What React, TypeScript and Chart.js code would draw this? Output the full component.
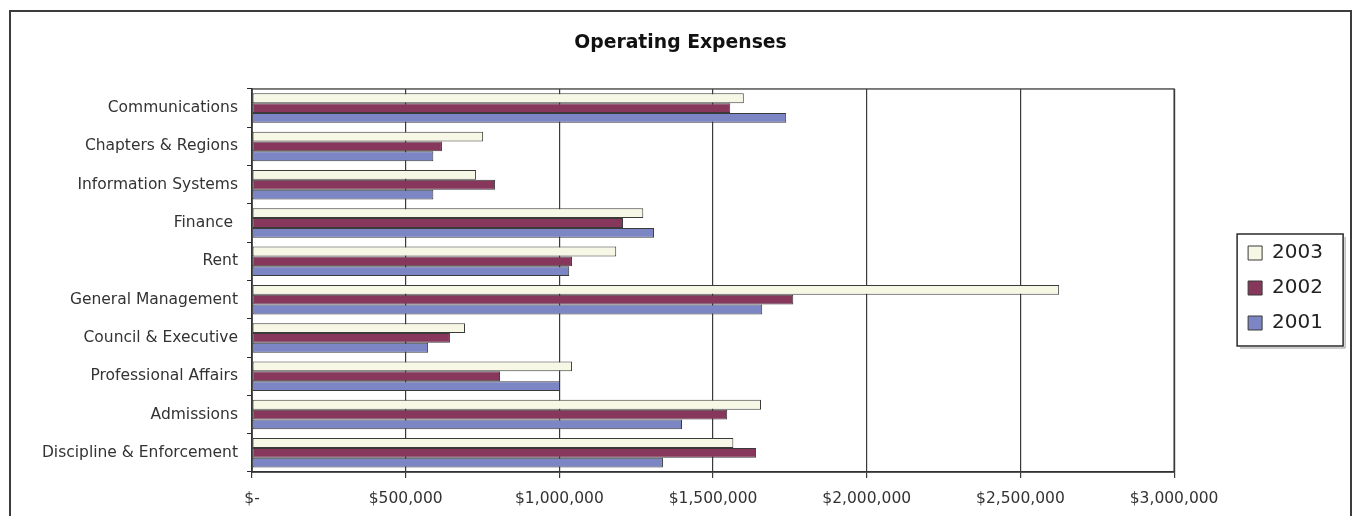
import React, { useEffect, useRef } from 'react';
import { Chart, registerables } from 'chart.js';

Chart.register(...registerables);

const categories = [
  'Communications',
  'Chapters & Regions',
  'Information Systems',
  'Finance ',
  'Rent',
  'General Management',
  'Council & Executive',
  'Professional Affairs',
  'Admissions',
  'Discipline & Enforcement',
];

const seriesNames = ['2003', '2002', '2001'];

const values2003 = [1600000, 752000, 729000, 1273000, 1185000, 2626000, 693000, 1041000, 1656000, 1566000];
const values2002 = [1556000, 618000, 791000, 1207000, 1041000, 1761000, 644000, 807000, 1546000, 1640000];
const values2001 = [1738000, 590000, 590000, 1308000, 1032000, 1660000, 573000, 1002000, 1399000, 1337000];

const xTickLabels = ['$-', '$500,000', '$1,000,000', '$1,500,000', '$2,000,000', '$2,500,000', '$3,000,000'];

const FONT = "'DejaVu Sans', sans-serif";

export default function App() {
  const ref = useRef<HTMLCanvasElement | null>(null);

  useEffect(() => {
    if (!ref.current) return;

    const plotFrame = {
      id: 'plotFrame',
      beforeDatasetsDraw(chart: any) {
        const { ctx, chartArea: a } = chart;
        ctx.save();
        ctx.strokeStyle = '#3a3a3a';
        ctx.lineWidth = 1.3;
        ctx.strokeRect(a.left, a.top, a.right - a.left, a.bottom - a.top);
        ctx.restore();
      },
    };

    const legendBox = {
      id: 'legendBox',
      afterDraw(chart: any) {
        const lg = chart.legend;
        const hb = lg && lg.legendHitBoxes;
        if (!hb || !hb.length) return;
        const first = hb[0];
        const last = hb[hb.length - 1];
        const left = first.left - 11;
        const top = first.top + first.height / 2 - 19;
        const right = left + 106;
        const bottom = last.top + last.height / 2 + 23;
        const ctx = chart.ctx;
        ctx.save();
        ctx.strokeStyle = '#9a9a9a';
        ctx.lineWidth = 1;
        ctx.beginPath();
        ctx.moveTo(right + 2, top + 3);
        ctx.lineTo(right + 2, bottom + 2);
        ctx.lineTo(left + 3, bottom + 2);
        ctx.stroke();
        ctx.strokeStyle = '#2a2a2a';
        ctx.lineWidth = 1.5;
        ctx.strokeRect(left, top, right - left, bottom - top);
        ctx.restore();
      },
    };

    const chart = new Chart(ref.current, {
      type: 'bar',
      data: {
        labels: categories,
        datasets: [
          {
            label: seriesNames[0],
            data: values2003,
            backgroundColor: '#F7F7E6',
            borderColor: '#3a3a3a',
            borderWidth: 1,
            borderSkipped: false,
          },
          {
            label: seriesNames[1],
            data: values2002,
            backgroundColor: '#88375C',
            borderColor: '#3a3a3a',
            borderWidth: 1,
            borderSkipped: false,
          },
          {
            label: seriesNames[2],
            data: values2001,
            backgroundColor: '#7D86C4',
            borderColor: '#3a3a3a',
            borderWidth: 1,
            borderSkipped: false,
          },
        ],
      },
      options: {
        indexAxis: 'y',
        animation: false,
        responsive: false,
        devicePixelRatio: 1,
        categoryPercentage: 0.77,
        barPercentage: 1.0,
        layout: { padding: { left: 17, right: 17, top: 0, bottom: 0 } },
        scales: {
          x: {
            type: 'linear',
            min: 0,
            max: 3000000,
            ticks: {
              stepSize: 500000,
              color: '#333',
              font: { family: FONT, size: 15.5 },
              padding: 12,
              callback: (_v: any, i: number) => xTickLabels[i],
            },
            grid: { color: '#3a3a3a', lineWidth: 1.2, tickLength: 6, drawTicks: true },
            border: { display: true, color: '#2a2a2a', width: 1.5 },
            afterFit: (s: any) => {
              s.height = 44;
            },
          },
          y: {
            type: 'category',
            ticks: {
              color: '#333',
              font: { family: FONT, size: 15.5 },
              padding: 9,
            },
            grid: {
              display: true,
              drawOnChartArea: false,
              offset: true,
              tickLength: 5,
              color: '#2a2a2a',
            },
            border: { display: true, color: '#2a2a2a', width: 1.5 },
            afterFit: (s: any) => {
              s.width = 224;
            },
          },
          y2: {
            type: 'linear',
            axis: 'y',
            position: 'right',
            display: true,
            grid: { display: false, drawTicks: false },
            border: { display: false },
            ticks: { display: false },
            afterFit: (s: any) => {
              s.width = 59;
            },
          },
        },
        plugins: {
          title: {
            display: true,
            text: 'Operating Expenses',
            color: '#111',
            font: { family: FONT, size: 18.8, weight: 'bold' },
            padding: { top: 20, bottom: 34.4 },
          },
          legend: {
            display: true,
            position: 'right',
            align: 'center',
            title: { display: true, text: '', padding: 18, font: { size: 10 } },
            labels: {
              boxWidth: 14,
              boxHeight: 14,
              padding: 15,
              color: '#222',
              font: { family: FONT, size: 20 },
            },
          },
          tooltip: { enabled: false },
        },
      },
      plugins: [plotFrame, legendBox],
    } as any);

    return () => chart.destroy();
  }, []);

  return (
    <div
      style={{
        position: 'fixed',
        left: 9,
        top: 10,
        width: 1339,
        height: 520,
        border: '2px solid #3c3c3c',
        background: '#fff',
      }}
    >
      <canvas ref={ref} width={1339} height={504} style={{ display: 'block' }} />
    </div>
  );
}
